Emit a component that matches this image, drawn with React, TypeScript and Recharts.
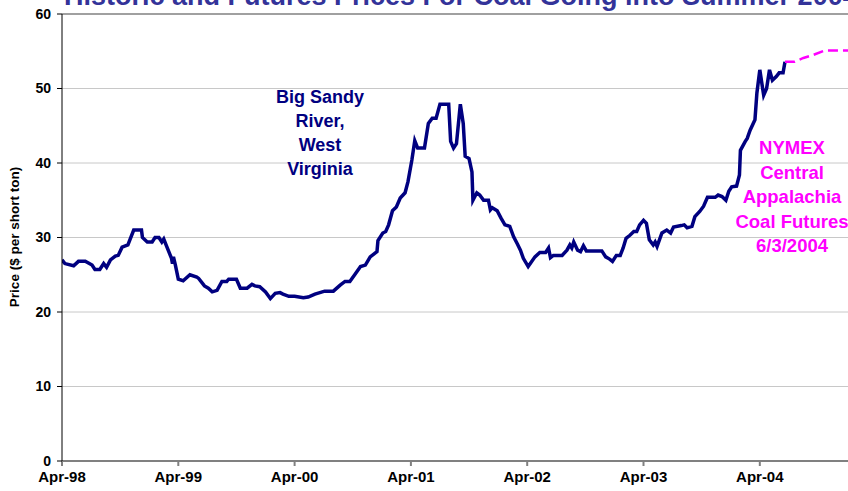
import { LineChart, Line, XAxis, YAxis, CartesianGrid, ReferenceLine } from "recharts";

// x = months since Apr-98
const tickMonths = [0, 12, 24, 36, 48, 60, 72];
const tickLabels = ["Apr-98", "Apr-99", "Apr-00", "Apr-01", "Apr-02", "Apr-03", "Apr-04"];
const priceTicks = [0, 10, 20, 30, 40, 50, 60];

// Big Sandy River, West Virginia spot price
const histMonths = [
  0, 0.3, 1.2, 1.7, 2.4, 3.1, 3.4, 3.9, 4.3, 4.6, 5.0, 5.5, 5.8, 6.2, 6.8, 7.4, 8.2, 8.3, 8.8, 9.3,
  9.6, 10.0, 10.3, 10.5, 10.8, 11.3, 11.4, 11.5, 11.7, 12.0, 12.5, 13.2, 13.9, 14.1, 14.7, 15.1, 15.5, 16.0, 16.5, 17.0,
  17.2, 18.0, 18.4, 19.1, 19.6, 19.9, 20.4, 21.0, 21.5, 22.0, 22.5, 22.8, 23.4, 24.0, 24.9, 25.4, 26.1, 27.1, 28.0, 28.7,
  29.2, 29.7, 30.2, 30.8, 31.3, 31.8, 32.5, 32.6, 33.1, 33.4, 33.7, 34.1, 34.5, 34.9, 35.4, 35.7, 36.1, 36.4, 36.7, 37.4,
  37.8, 38.2, 38.6, 39.0, 39.9, 40.1, 40.4, 40.7, 41.1, 41.4, 41.6, 42.0, 42.3, 42.4, 42.8, 43.1, 43.5, 44.0, 44.2, 44.4,
  44.9, 45.3, 45.7, 46.2, 46.6, 47.0, 47.3, 47.6, 48.1, 48.8, 49.3, 49.9, 50.2, 50.4, 50.7, 51.6, 52.1, 52.4, 52.6, 52.8,
  53.2, 53.5, 53.8, 54.1, 55.7, 56.1, 56.5, 56.8, 57.2, 57.6, 57.9, 58.2, 58.6, 59.0, 59.3, 59.6, 60.0, 60.3, 60.6, 61.0,
  61.2, 61.4, 61.9, 62.4, 62.8, 63.1, 63.9, 64.2, 64.5, 65.0, 65.3, 65.8, 66.2, 66.6, 67.4, 67.7, 68.1, 68.5, 68.8, 69.1,
  69.6, 69.9, 70.0, 70.5, 70.7, 71.0, 71.5, 71.7, 72.0, 72.4, 72.7, 73.0, 73.3, 73.7, 74.0, 74.4, 74.6,
];
const histPrices = [
  27.0, 26.5, 26.2, 26.8, 26.8, 26.3, 25.7, 25.7, 26.5, 26.0, 27.0, 27.5, 27.6, 28.7, 29.0, 31.0, 31.0, 30.0, 29.4, 29.4,
  30.0, 30.0, 29.4, 29.8, 28.8, 27.2, 26.5, 27.4, 26.3, 24.4, 24.2, 25.0, 24.7, 24.5, 23.5, 23.2, 22.7, 22.9, 24.1, 24.1,
  24.4, 24.4, 23.2, 23.2, 23.7, 23.5, 23.4, 22.7, 21.8, 22.5, 22.6, 22.4, 22.1, 22.1, 21.9, 22.0, 22.4, 22.8, 22.8, 23.6,
  24.1, 24.1, 25.0, 26.1, 26.3, 27.4, 28.1, 29.6, 30.6, 30.8, 31.7, 33.6, 34.1, 35.3, 36.0, 37.5, 40.4, 43.0, 42.0, 42.0,
  45.3, 46.0, 46.0, 47.9, 47.9, 42.9, 42.0, 42.6, 47.9, 45.3, 40.9, 40.6, 38.8, 35.0, 36.0, 35.7, 35.0, 35.0, 33.7, 34.0,
  33.6, 32.6, 31.7, 31.5, 30.1, 29.1, 28.3, 27.2, 26.1, 27.4, 28.0, 28.0, 28.6, 27.3, 27.6, 27.6, 28.3, 29.0, 28.6, 29.4,
  28.3, 28.1, 28.9, 28.2, 28.2, 27.4, 27.1, 26.8, 27.6, 27.6, 28.6, 29.9, 30.3, 30.8, 30.8, 31.7, 32.3, 31.9, 29.7, 29.0,
  29.4, 28.8, 30.6, 31.0, 30.6, 31.4, 31.6, 31.7, 31.3, 31.5, 32.8, 33.5, 34.2, 35.4, 35.4, 35.7, 35.5, 35.0, 36.2, 36.8,
  36.9, 38.4, 41.7, 42.9, 43.3, 44.4, 45.8, 49.4, 52.5, 49.1, 50.0, 52.5, 51.1, 51.6, 52.1, 52.1, 53.6,
];

// NYMEX Central Appalachia coal futures, 6/3/2004
const futMonths = [74.6, 75.6, 76.5, 77.5, 78.7, 79.6, 81.1];
const futPrices = [53.6, 53.6, 54.1, 54.5, 55.1, 55.1, 55.1];

type Row = { m: number; hist?: number | null; fut?: number | null };
const rowMap = new Map<number, Row>();
histMonths.forEach((m, i) => rowMap.set(m, { m, hist: histPrices[i], fut: null }));
futMonths.forEach((m, i) => {
  const r = rowMap.get(m);
  if (r) r.fut = futPrices[i];
  else rowMap.set(m, { m, hist: null, fut: futPrices[i] });
});
const data = Array.from(rowMap.values()).sort((a, b) => a.m - b.m);

const font = "Arial, 'Liberation Sans', sans-serif";

export default function App() {
  return (
    <div
      style={{
        position: "absolute",
        left: 0,
        top: 0,
        width: 848,
        height: 491,
        overflow: "hidden",
        background: "#fff",
        fontFamily: font,
      }}
    >
      <LineChart width={848} height={491} data={data} margin={{ top: 14, right: 0, bottom: 0, left: 0 }}>
        <CartesianGrid horizontal vertical={false} stroke="#c8c8c8" />
        <ReferenceLine y={60} stroke="#a0a0a0" strokeWidth={2} />
        <XAxis
          dataKey="m"
          type="number"
          domain={[0, 81.1]}
          ticks={tickMonths}
          tickFormatter={(v: number) => tickLabels[tickMonths.indexOf(v)] ?? ""}
          height={30}
          stroke="#808080"
          strokeWidth={2}
          tickSize={5}
          tickMargin={5}
          tick={{ fill: "#000", fontSize: 15, fontWeight: "bold", fontFamily: font }}
          allowDataOverflow
        />
        <YAxis
          type="number"
          domain={[0, 60]}
          ticks={priceTicks}
          width={62}
          stroke="#000"
          tickSize={5}
          tickMargin={6}
          tick={{ fill: "#000", fontSize: 14, fontWeight: "bold", fontFamily: font }}
        />
        <Line
          dataKey="hist"
          type="linear"
          stroke="#000080"
          strokeWidth={3.5}
          dot={false}
          connectNulls
          isAnimationActive={false}
        />
        <Line
          dataKey="fut"
          type="linear"
          stroke="#ff00ff"
          strokeWidth={2.5}
          strokeDasharray="10 5"
          dot={false}
          connectNulls
          isAnimationActive={false}
        />
      </LineChart>

      <div
        style={{
          position: "absolute",
          left: 64,
          top: -17,
          whiteSpace: "nowrap",
          fontSize: 27,
          lineHeight: "27px",
          fontWeight: "bold",
          color: "#333399",
        }}
      >
        Historic and Futures Prices For Coal Going into Summer 2004
      </div>

      <div
        style={{
          position: "absolute",
          left: -85,
          top: 229,
          width: 200,
          height: 16,
          lineHeight: "16px",
          textAlign: "center",
          transform: "rotate(-90deg)",
          fontSize: 13.5,
          fontWeight: "bold",
          color: "#000",
          whiteSpace: "nowrap",
        }}
      >
        Price ($ per short ton)
      </div>

      <div
        style={{
          position: "absolute",
          left: 220,
          top: 85,
          width: 200,
          textAlign: "center",
          fontSize: 18,
          lineHeight: "24px",
          fontWeight: "bold",
          color: "#000080",
        }}
      >
        Big Sandy
        <br />
        River,
        <br />
        West
        <br />
        Virginia
      </div>

      <div
        style={{
          position: "absolute",
          left: 692,
          top: 136,
          width: 200,
          textAlign: "center",
          fontSize: 18.5,
          lineHeight: "24.6px",
          fontWeight: "bold",
          color: "#ff00ff",
          whiteSpace: "nowrap",
        }}
      >
        NYMEX
        <br />
        Central
        <br />
        Appalachia
        <br />
        Coal Futures
        <br />
        6/3/2004
      </div>
    </div>
  );
}
